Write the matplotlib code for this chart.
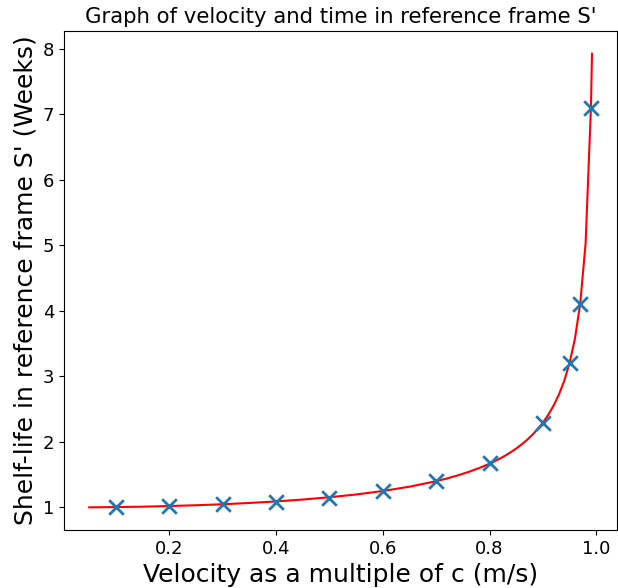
import numpy as np
import matplotlib
matplotlib.use("Agg")
import matplotlib.pyplot as plt

# curve values
v_line = [0.05, 0.10, 0.15, 0.20, 0.25, 0.30, 0.35, 0.40, 0.45, 0.50, 0.55,
          0.60, 0.65, 0.70, 0.72, 0.74, 0.76, 0.78, 0.80, 0.81, 0.82, 0.83,
          0.84, 0.85, 0.86, 0.87, 0.88, 0.89, 0.90, 0.91, 0.92, 0.93, 0.94,
          0.95, 0.96, 0.97, 0.98, 0.99, 0.992]
t_line = [1.001, 1.005, 1.011, 1.021, 1.033, 1.048, 1.068, 1.091, 1.120,
          1.155, 1.197, 1.250, 1.316, 1.400, 1.441, 1.487, 1.539, 1.598,
          1.667, 1.705, 1.747, 1.793, 1.843, 1.898, 1.960, 2.028, 2.105,
          2.193, 2.294, 2.412, 2.552, 2.721, 2.931, 3.203, 3.571, 4.113,
          5.025, 7.089, 7.921]

# measured points
v_pts = [0.1, 0.2, 0.3, 0.4, 0.5, 0.6, 0.7, 0.8, 0.9, 0.95, 0.97, 0.99]
t_pts = [1.005, 1.02, 1.05, 1.09, 1.15, 1.25, 1.40, 1.67, 2.29, 3.20, 4.11, 7.09]

fig = plt.figure(figsize=(6.18, 5.88), dpi=100)
ax = fig.add_axes([0.1036, 0.0986, 0.895, 0.8486])

ax.plot(v_line, t_line, color='red', lw=1.5)
ax.scatter(v_pts, t_pts, marker='x', s=110, color='tab:blue', linewidths=2, zorder=3)

ax.set_title("Graph of velocity and time in reference frame S'", fontsize=15.3)
ax.set_xlabel("Velocity as a multiple of c (m/s)", fontsize=18)
ax.set_ylabel("Shelf-life in reference frame S' (Weeks)", fontsize=18)
ax.tick_params(labelsize=13)
ax.set_xticks([0.2, 0.4, 0.6, 0.8, 1.0])
ax.set_yticks(range(1, 9))

fig.savefig("out.png", dpi=100)
